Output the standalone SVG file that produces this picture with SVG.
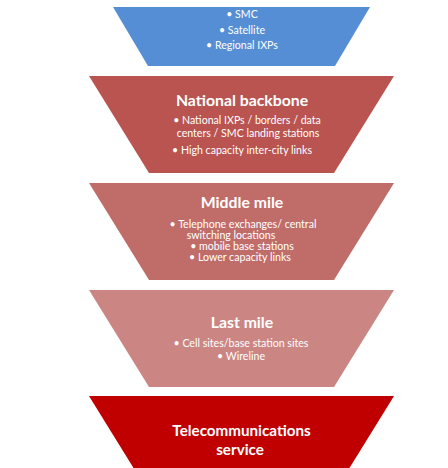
<svg xmlns="http://www.w3.org/2000/svg" width="448" height="468" viewBox="0 0 448 468">
<style>
.t{font-family:Lato,"Liberation Sans",sans-serif;fill:#ffffff;text-anchor:middle}
.h{font-size:15.8px;font-weight:bold}
.s{font-size:15.2px}
.b{font-size:10.6px}
</style>
<rect width="448" height="468" fill="#ffffff"/>
<g id="node-regional">
<polygon points="113,7 370,7 335,66 148,66" fill="#558ED5"/>
<text class="t b" x="242" y="18">• SMC</text>
<text class="t b" x="242" y="34">• Satellite</text>
<text class="t b" x="242" y="49">• Regional IXPs</text>
</g>
<g id="node-national-backbone">
<polygon points="89,76 394,76 334,173 149,173" fill="#B95450"/>
<text class="t h" x="242" y="106">National backbone</text>
<text class="t b" x="247" y="124">• National IXPs / borders / data</text>
<text class="t b" x="248" y="137">centers / SMC landing stations</text>
<text class="t b" x="242" y="154">• High capacity inter-city links</text>
</g>
<g id="node-middle-mile">
<polygon points="89,183 394,183 334,280 149,280" fill="#C06D6A"/>
<text class="t h" x="242" y="208">Middle mile</text>
<text class="t b" x="243" y="228">• Telephone exchanges/ central</text>
<text class="t b" x="231" y="239">switching locations</text>
<text class="t b" x="242" y="250">• mobile base stations</text>
<text class="t b" x="240" y="261">• Lower capacity links</text>
</g>
<g id="node-last-mile">
<polygon points="89,290 394,290 334,387 149,387" fill="#CB8684"/>
<text class="t h" x="242" y="328">Last mile</text>
<text class="t b" x="241" y="347">• Cell sites/base station sites</text>
<text class="t b" x="241" y="360">• Wireline</text>
</g>
<g id="node-telecom-service">
<polygon points="89,396 394,396 334,493 149,493" fill="#C00000"/>
<text class="t h s" x="241.5" y="436">Telecommunications</text>
<text class="t h s" x="240" y="455">service</text>
</g>
<g id="connectors"></g>
</svg>
